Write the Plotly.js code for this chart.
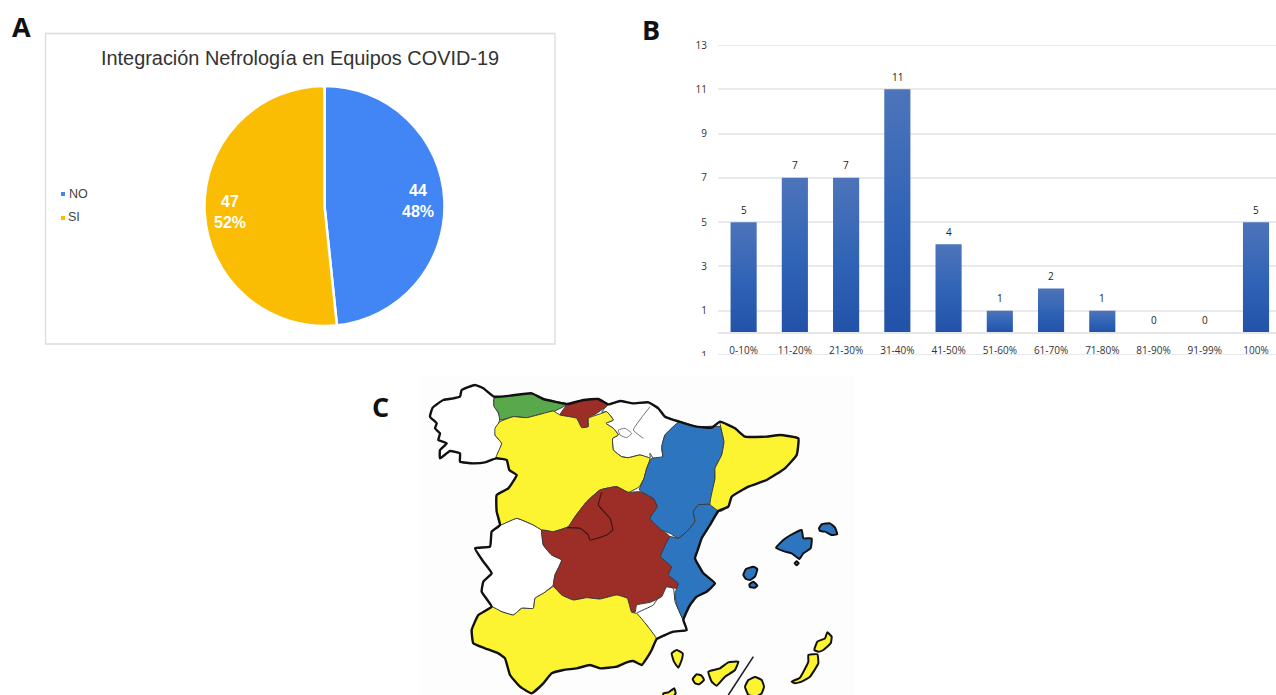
<!DOCTYPE html>
<html><head><meta charset="utf-8">
<script src="https://cdn.plot.ly/plotly-3.0.1.min.js"></script>
<style>html,body{margin:0;padding:0;background:#fff;overflow:hidden}#g{width:1276px;height:695px}</style>
</head><body><div id="g"></div>
<script>
// Panel A
const pieLabels = ['NO','SI'];
const pieValues = [44,47];
const pieColors = ['#4285f4','#fbbc04'];
// Panel B
const barCats = ['0-10%','11-20%','21-30%','31-40%','41-50%','51-60%','61-70%','71-80%','81-90%','91-99%','100%'];
const barVals = [5,7,7,11,4,1,2,1,0,0,5];
const yTicks = [-1,1,3,5,7,9,11,13];
// Panel C: region outlines (map units)
const galicia = [[30,125],[38,98],[70,75],[100,70],[120,65],[125,45],[165,30],[190,40],[222,65],[222,90],[240,125],[235,150],[225,180],[245,205],[228,250],[195,262],[160,265],[120,260],[120,235],[90,228],[60,250],[60,225],[80,205],[55,195],[60,175],[45,160],[50,145]];
const asturias = [[222,70],[270,62],[335,55],[370,72],[443,87],[400,110],[360,118],[320,128],[280,125],[240,135],[235,112],[222,95]];
const cantabria = [[443,87],[490,75],[535,72],[565,88],[530,115],[505,130],[505,155],[485,158],[470,130],[420,120]];
const norte = [[565,88],[600,78],[640,85],[685,82],[715,100],[735,125],[778,140],[735,180],[725,220],[728,245],[705,258],[690,235],[690,250],[660,240],[625,248],[605,245],[580,225],[578,190],[595,180],[580,160],[558,145],[580,135],[560,110],[545,112]];
const castillaLeon = [[225,160],[240,140],[280,125],[320,128],[360,118],[400,108],[420,120],[470,130],[485,158],[505,155],[505,130],[545,115],[560,110],[580,135],[558,145],[580,160],[595,180],[578,190],[580,225],[605,245],[625,248],[660,240],[690,250],[680,280],[672,310],[658,335],[625,352],[590,335],[540,345],[500,380],[465,425],[445,455],[400,470],[365,465],[340,450],[290,430],[240,450],[230,410],[230,360],[265,340],[290,300],[268,285],[260,255],[228,248],[245,205],[225,180]];
const extremadura = [[240,450],[290,430],[340,450],[365,465],[370,510],[395,540],[425,555],[405,600],[400,630],[370,655],[345,670],[340,700],[305,700],[280,720],[245,710],[215,695],[185,650],[190,620],[215,595],[190,560],[165,520],[210,515],[215,470]];
const castillaMancha = [[365,465],[400,470],[445,455],[465,425],[500,380],[540,345],[590,335],[625,352],[658,350],[700,370],[712,395],[690,430],[725,465],[750,485],[722,545],[755,575],[745,600],[775,625],[770,640],[740,635],[725,665],[690,682],[650,690],[645,712],[628,710],[622,670],[590,660],[540,672],[500,668],[460,675],[425,660],[400,632],[405,600],[425,555],[395,540],[370,510]];
const aragon = [[778,140],[830,155],[900,155],[912,200],[905,240],[885,280],[885,310],[870,388],[835,390],[820,410],[825,440],[800,470],[775,490],[750,475],[725,465],[690,430],[712,395],[700,370],[658,345],[672,310],[680,280],[695,250],[728,245],[725,215],[735,180]];
const valencia = [[835,390],[870,388],[895,408],[870,450],[845,490],[835,520],[825,550],[838,575],[850,595],[885,625],[860,650],[830,665],[810,690],[800,710],[790,735],[770,690],[765,655],[775,625],[745,600],[755,575],[722,545],[750,485],[775,490],[800,470],[825,440],[820,410]];
const cataluna = [[900,140],[945,160],[975,185],[1040,185],[1080,180],[1135,190],[1130,240],[1095,280],[1040,315],[985,335],[935,365],[925,395],[900,410],[870,388],[885,310],[885,280],[905,240],[912,200]];
const murcia = [[650,715],[700,690],[735,635],[760,640],[765,680],[790,735],[800,765],[760,770],[710,792],[680,750],[660,730]];
const andalucia = [[155,765],[175,720],[215,695],[245,710],[280,720],[305,700],[340,700],[345,670],[370,655],[400,635],[425,660],[460,675],[500,668],[540,672],[590,660],[622,670],[635,712],[650,715],[680,750],[710,792],[695,825],[680,850],[665,870],[640,858],[620,862],[590,875],[540,880],[510,870],[470,880],[430,885],[395,895],[370,925],[335,955],[300,935],[270,900],[255,850],[235,835],[195,820],[160,805]];
const mallorca = [[1068,518],[1090,495],[1112,480],[1145,465],[1150,490],[1175,490],[1172,520],[1150,535],[1138,552],[1115,535],[1095,530]];
const menorca = [[1197,460],[1205,448],[1230,445],[1245,458],[1252,478],[1235,480],[1215,470],[1200,468]];
const ibiza = [[970,600],[978,582],[1000,575],[1012,582],[1005,605],[990,615],[978,612]];
const formentera = [[988,628],[1000,620],[1012,632],[1005,638],[990,636]];
const cabrera = [[1124,565],[1130,559],[1136,565],[1130,571]];
const lanzarote = [[1183,825],[1192,800],[1215,790],[1222,772],[1235,785],[1232,805],[1210,825],[1195,830]];
const fuerteventura = [[1115,920],[1140,908],[1165,860],[1165,840],[1192,838],[1195,865],[1170,905],[1145,920],[1125,925]];
const granCanaria = [[975,935],[985,915],[1005,906],[1025,915],[1032,935],[1025,955],[1010,965],[985,960]];
const tenerife = [[865,890],[900,880],[925,862],[955,860],[945,885],[915,905],[890,932],[875,920]];
const gomera = [[818,912],[830,898],[845,902],[852,915],[838,928],[825,925]];
const laPalma = [[755,835],[770,825],[788,835],[785,855],[775,878],[762,860]];
const hierro = [[730,955],[745,952],[763,940],[767,955],[755,970],[730,970]];
const coast = [[30,125],[38,98],[70,75],[100,70],[120,65],[125,45],[165,30],[190,40],[222,65],[270,62],[335,55],[370,72],[443,87],[490,75],[535,72],[565,88],[600,78],[640,85],[685,82],[715,100],[735,125],[778,140],[830,155],[875,158],[900,140],[945,160],[975,185],[1040,185],[1080,180],[1135,190],[1130,240],[1095,280],[1040,315],[985,335],[935,365],[925,395],[895,408],[870,450],[845,490],[835,520],[825,550],[838,575],[850,595],[885,625],[860,650],[830,665],[810,690],[800,710],[790,735],[800,765],[760,770],[710,792],[695,825],[680,850],[665,870],[640,858],[620,862],[590,875],[540,880],[510,870],[470,880],[430,885],[395,895],[370,925],[335,955],[300,935],[270,900],[255,850],[235,835],[195,820],[160,805],[155,765],[175,720],[215,695],[185,650],[190,620],[215,595],[190,560],[165,520],[210,515],[215,470],[240,450],[230,410],[230,360],[265,340],[290,300],[268,285],[260,255],[228,250],[195,262],[160,265],[120,260],[120,235],[90,228],[60,250],[60,225],[80,205],[55,195],[60,175],[45,160],[50,145],[30,125]];
const madridLine = [[545,352],[535,390],[570,430],[578,465],[560,480],[510,495],[505,480],[480,460],[440,458]];
const vascoLine = [[690,95],[640,165],[670,190]];
const trevino = [[595,165],[615,160],[635,175],[620,188],[600,180],[595,165]];
const cutLine = [[1000,845],[925,960]];

const blue='#2e75c0', yellow='#fdf431', brown='#9c2d27', green='#59a84b', white='#ffffff';
const regions = [
 [galicia,white],[norte,white],[extremadura,white],[murcia,white],
 [asturias,green],[cantabria,brown],[castillaLeon,yellow],[castillaMancha,brown],
 [aragon,blue],[valencia,blue],[cataluna,yellow],[andalucia,yellow]];
const islands = [[mallorca,blue],[menorca,blue],[ibiza,blue],[formentera,blue],[cabrera,'#888888'],
 [lanzarote,yellow],[fuerteventura,yellow],[granCanaria,yellow],[tenerife,yellow],[gomera,yellow],[laPalma,yellow],[hierro,yellow]];

const xs = p => p.map(a=>a[0]), ys = p => p.map(a=>a[1]);
const closed = p => p.concat([p[0]]);
const poly = (p,c,w,lc) => ({type:'scatter',mode:'lines',xaxis:'x2',yaxis:'y2',x:xs(closed(p)),y:ys(closed(p)),fill:'toself',fillcolor:c,
  line:{color:lc,width:w,shape:'spline',smoothing:0.35},hoverinfo:'skip',showlegend:false});
const path = (p,w,c) => ({type:'scatter',mode:'lines',xaxis:'x2',yaxis:'y2',x:xs(p),y:ys(p),
  line:{color:c,width:w,shape:'spline',smoothing:0.35},hoverinfo:'skip',showlegend:false});

const W=1276,H=695;
const px = v => v/W, py = v => 1-v/H;
const sans='"Liberation Sans",Arial,sans-serif', open='"Open Sans",sans-serif';

const traces = [
 {type:'bar',x:barCats,y:barVals,marker:{color:'#2e5fb0'},hoverinfo:'skip',showlegend:false},
 ...regions.map(r=>poly(r[0],r[1],1,'#3a3a3a')),
 path(madridLine,1.1,'#3a1512'),
 path(vascoLine,1,'#777'),
 path(trevino,1,'#777'),
 path(coast,2.4,'#111'),
 ...islands.map(r=>poly(r[0],r[1],2,'#111')),
 path(cutLine,1.6,'#222'),
 {type:'pie',labels:pieLabels,values:pieValues,sort:false,direction:'clockwise',rotation:0,
  marker:{colors:pieColors,line:{color:'#fff',width:2.5}},textinfo:'none',hoverinfo:'skip',showlegend:false,
  domain:{x:[px(204.5),px(444.5)],y:[py(326.5),py(85.5)]}}
];

const label=(t,x,y,size,color,extra)=>Object.assign({text:t,xref:'paper',yref:'paper',x:px(x),y:py(y),xanchor:'center',yanchor:'middle',
  showarrow:false,font:{family:sans,size:size,color:color}},extra||{});
const gridEdge = v => ({type:'line',xref:'paper',yref:'y',x0:px(718),x1:1,y0:v,y1:v,line:{color:'#e8e9ed',width:2},layer:'below'});
const boldW = {family:sans,size:16,color:'#fff',weight:700};
const boldL = {family:open,size:27,color:'#111',weight:700};

const layout = {
 width:W,height:H,margin:{l:0,r:0,t:0,b:0},paper_bgcolor:'#fff',plot_bgcolor:'rgba(0,0,0,0)',showlegend:false,
 bargap:0.49,
 xaxis:{domain:[px(718),1],range:[-0.5,10.39],anchor:'free',position:py(333),type:'category',categoryorder:'array',categoryarray:barCats,
   showline:true,linecolor:'#e4e6ea',linewidth:2,showgrid:false,zeroline:false,ticks:'outside',ticklen:8,tickcolor:'rgba(0,0,0,0)',
   tickfont:{family:open,size:10,color:'#333'},tickangle:0},
 yaxis:{domain:[py(355),py(45)],range:[-1,13],tickmode:'array',tickvals:yTicks,ticktext:yTicks.map(String),
   showgrid:true,gridcolor:'#e8e9ed',gridwidth:2,zeroline:false,showline:false,ticks:'outside',ticklen:8,tickcolor:'rgba(0,0,0,0)',
   tickfont:{family:open,size:10,color:'#333'}},
 xaxis2:{domain:[px(420),px(850)],range:[0,1290],visible:false,fixedrange:true,anchor:'y2'},
 yaxis2:{domain:[0,320/H],range:[960,0],visible:false,fixedrange:true,anchor:'x2'},
 shapes:[
  {type:'rect',xref:'paper',yref:'paper',x0:px(45.5),x1:px(555),y0:py(344),y1:py(33.5),line:{color:'#dcdcdc',width:1.3},fillcolor:'#fff',layer:'below'},
  {type:'rect',xref:'paper',yref:'paper',x0:px(420),x1:px(855),y0:0,y1:py(375),line:{width:0},fillcolor:'#fdfdfd',layer:'below'},
  gridEdge(13),gridEdge(-1),
  {type:'rect',xref:'paper',yref:'paper',x0:px(61),x1:px(65),y0:py(196),y1:py(192),line:{width:0},fillcolor:pieColors[0]},
  {type:'rect',xref:'paper',yref:'paper',x0:px(61),x1:px(65),y0:py(220),y1:py(216),line:{width:0},fillcolor:pieColors[1]},
  {type:'rect',xref:'paper',yref:'paper',x0:px(690),x1:px(716),y0:py(372),y1:py(356),line:{width:0},fillcolor:'#fff',layer:'above'}
 ],
 annotations:[
  label('A',21,26,27,'#111',{font:boldL}),
  label('B',651,30,27,'#111',{font:boldL}),
  label('C',380,407,27,'#111',{font:boldL}),
  label('Integración Nefrología en Equipos COVID-19',300,58,19.9,'#333'),
  label('NO',78,194,12.5,'#444'),
  label('SI',74,217,12.5,'#444'),
  label(String(pieValues[0]),418,191,16,'#fff',{font:boldW}),
  label('48%',418,211,16,'#fff',{font:boldW}),
  label(String(pieValues[1]),230,201,16,'#fff',{font:boldW}),
  label('52%',230,222,16,'#fff',{font:boldW}),
  ...barCats.map((c,i)=>({text:String(barVals[i]),xref:'x',yref:'y',x:c,y:barVals[i],yshift:12.5,showarrow:false,
     xanchor:'center',yanchor:'middle',font:{family:open,size:10,color:'#222'}}))
 ]
};

Plotly.newPlot('g',traces,layout,{staticPlot:true,displayModeBar:false}).then(gd=>{
  const svg=gd.querySelector('.main-svg');
  const ns='http://www.w3.org/2000/svg';
  const defs=document.createElementNS(ns,'defs');
  defs.innerHTML='<linearGradient id="barGrad" x1="0" y1="0" x2="0" y2="1"><stop offset="0" stop-color="#4d74ba"/><stop offset="0.55" stop-color="#2f63b6"/><stop offset="1" stop-color="#2252a8"/></linearGradient>';
  svg.appendChild(defs);
  gd.querySelectorAll('.barlayer .point path').forEach(p=>{p.style.fill='url(#barGrad)';});
});
</script></body></html>
